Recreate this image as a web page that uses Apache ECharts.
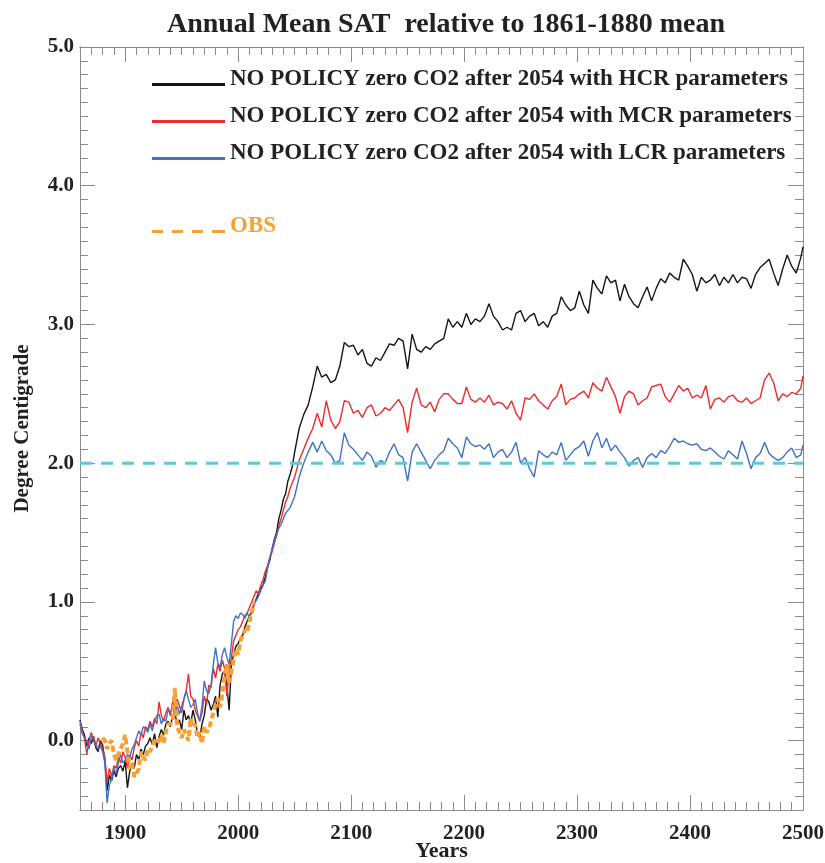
<!DOCTYPE html>
<html>
<head>
<meta charset="utf-8">
<script src="https://cdn.jsdelivr.net/npm/echarts@6/dist/echarts.min.js"></script>
<style>html,body{margin:0;padding:0;background:#fff;overflow:hidden;}#c{width:825px;height:863px;}</style>
</head>
<body>
<div id="c"></div>
<script>
// ---------- DATA ----------
const yearsEarly = [
1860,1862,1864,1866,1868,1870,1872,1874,1876,1878,
1880,1882,1884,1886,1888,1890,1892,1894,1896,1898,
1900,1902,1904,1906,1908,1910,1912,1914,1916,1918,
1920,1922,1924,1926,1928,1930,1932,1934,1936,1938,
1940,1942,1944,1946,1948,1950,1952,1954,1956,1958,
1960,1962,1964,1966,1968,1970,1972,1974,1976,1978,
1980,1982,1984,1986,1988,1990,1992,1994,1996,1998,
2000,2002,2004,2006,2008,2010,2012,2014,2016,2018,
2020,2022,2024,2026,2028,2030,2032,2034,2036,2038,
2040,2042,2044,2046,2048,2050];
const yearsLate = [
2054,2058,2062,2066,2070,2074,2078,2082,2086,2090,
2094,2098,2102,2106,2110,2114,2118,2122,2126,2130,
2134,2138,2142,2146,2150,2154,2158,2162,2166,2170,
2174,2178,2182,2186,2190,2194,2198,2202,2206,2210,
2214,2218,2222,2226,2230,2234,2238,2242,2246,2250,
2254,2258,2262,2266,2270,2274,2278,2282,2286,2290,
2294,2298,2302,2306,2310,2314,2318,2322,2326,2330,
2334,2338,2342,2346,2350,2354,2358,2362,2366,2370,
2374,2378,2382,2386,2390,2394,2398,2402,2406,2410,
2414,2418,2422,2426,2430,2434,2438,2442,2446,2450,
2454,2458,2462,2466,2470,2474,2478,2482,2486,2490,
2494,2498,2500];

const hcrEarly = [
0.15,0.08,0.04,-0.04,0.02,-0.02,0.03,-0.05,-0.08,0.0,
-0.03,-0.14,-0.36,-0.25,-0.29,-0.22,-0.26,-0.2,-0.18,-0.22,
-0.15,-0.34,-0.22,-0.18,-0.2,-0.1,-0.14,-0.06,-0.1,-0.04,
-0.02,0.02,-0.03,0.05,-0.05,0.03,0.08,0.04,0.12,0.14,
0.1,0.18,0.2,0.12,0.15,0.08,0.22,0.15,0.18,0.12,
0.22,0.15,0.05,0.02,0.12,0.18,0.3,0.28,0.22,0.26,
0.32,0.17,0.4,0.48,0.5,0.4,0.22,0.55,0.62,0.68,
0.7,0.74,0.76,0.82,0.86,0.9,0.92,0.98,1.02,1.06,
1.1,1.12,1.18,1.25,1.3,1.38,1.45,1.5,1.6,1.66,
1.74,1.78,1.87,1.92,1.98,2.08];
const hcrLate = [
2.25,2.35,2.42,2.55,2.7,2.62,2.64,2.58,2.6,2.7,
2.87,2.84,2.85,2.78,2.82,2.72,2.7,2.76,2.74,2.8,
2.86,2.85,2.9,2.88,2.68,2.93,2.82,2.8,2.84,2.82,
2.86,2.88,2.9,3.04,2.98,3.02,2.98,3.08,3.0,3.04,
3.02,3.06,3.15,3.06,3.02,2.96,2.98,2.96,3.08,3.1,
3.02,3.06,3.08,2.99,3.02,2.98,3.06,3.08,3.2,3.14,
3.1,3.12,3.24,3.14,3.08,3.32,3.26,3.22,3.35,3.3,
3.32,3.17,3.29,3.2,3.15,3.12,3.2,3.27,3.17,3.26,
3.33,3.3,3.37,3.34,3.32,3.47,3.42,3.36,3.24,3.34,
3.3,3.32,3.36,3.28,3.34,3.3,3.36,3.3,3.34,3.33,
3.26,3.36,3.41,3.44,3.47,3.37,3.28,3.4,3.5,3.42,
3.37,3.48,3.56];

const mcrEarly = [
0.12,0.05,0.02,-0.1,0.0,0.06,0.0,-0.04,0.02,-0.02,
-0.06,-0.12,-0.3,-0.2,-0.26,-0.18,-0.2,-0.12,-0.16,-0.08,
-0.12,-0.2,-0.1,-0.14,-0.05,0.0,-0.04,0.06,0.02,0.1,
0.08,0.14,0.1,0.16,0.12,0.28,0.18,0.14,0.2,0.24,
0.18,0.28,0.22,0.3,0.25,0.2,0.3,0.36,0.48,0.32,
0.3,0.22,0.18,0.14,0.2,0.32,0.26,0.4,0.38,0.52,
0.45,0.55,0.5,0.58,0.52,0.32,0.5,0.6,0.72,0.76,
0.8,0.82,0.86,0.9,0.92,0.96,1.0,1.04,1.08,1.06,
1.12,1.16,1.22,1.26,1.32,1.36,1.42,1.48,1.55,1.6,
1.66,1.72,1.76,1.82,1.86,1.9];
const mcrLate = [
2.02,2.1,2.18,2.25,2.36,2.26,2.45,2.31,2.25,2.3,
2.45,2.44,2.36,2.38,2.33,2.4,2.42,2.34,2.36,2.4,
2.38,2.42,2.46,2.4,2.22,2.44,2.54,2.42,2.4,2.44,
2.37,2.46,2.5,2.5,2.46,2.43,2.43,2.55,2.46,2.44,
2.47,2.44,2.49,2.42,2.44,2.43,2.39,2.45,2.36,2.31,
2.47,2.46,2.5,2.45,2.42,2.39,2.45,2.48,2.57,2.42,
2.46,2.47,2.5,2.52,2.47,2.58,2.54,2.52,2.62,2.55,
2.48,2.36,2.48,2.52,2.5,2.42,2.45,2.47,2.55,2.56,
2.57,2.48,2.44,2.5,2.56,2.52,2.54,2.47,2.49,2.47,
2.56,2.39,2.46,2.47,2.44,2.48,2.49,2.45,2.44,2.47,
2.43,2.45,2.47,2.6,2.65,2.58,2.45,2.5,2.48,2.51,
2.5,2.54,2.63];

const lcrEarly = [
0.14,0.06,0.02,0.0,-0.06,0.03,0.02,-0.02,-0.06,-0.04,
-0.08,-0.16,-0.45,-0.32,-0.28,-0.2,-0.24,-0.16,-0.1,-0.16,
-0.14,-0.1,-0.12,-0.06,-0.03,0.02,0.07,0.04,0.1,0.09,
0.06,0.12,0.07,0.14,0.18,0.19,0.12,0.16,0.14,0.22,
0.2,0.24,0.18,0.26,0.19,0.25,0.3,0.36,0.3,0.24,
0.26,0.3,0.2,0.14,0.25,0.43,0.36,0.34,0.4,0.55,
0.67,0.56,0.53,0.62,0.67,0.6,0.55,0.7,0.86,0.9,
0.88,0.92,0.91,0.88,0.92,0.89,0.95,0.98,1.01,1.04,
1.08,1.12,1.15,1.24,1.32,1.38,1.44,1.48,1.53,1.56,
1.6,1.64,1.66,1.68,1.72,1.76];
const lcrLate = [
1.9,2.0,2.08,2.15,2.08,2.16,2.09,2.06,2.0,2.02,
2.22,2.13,2.1,2.06,2.02,2.08,2.05,1.97,2.02,2.0,
2.08,2.14,2.06,2.04,1.87,2.08,2.14,2.08,2.02,1.96,
2.02,2.06,2.09,2.18,2.14,2.11,2.04,2.19,2.14,2.12,
2.13,2.1,2.14,2.04,2.08,2.1,2.04,2.08,2.15,2.0,
2.04,1.96,1.9,2.09,2.06,2.04,2.08,2.06,2.15,2.02,
2.06,2.1,2.12,2.16,2.05,2.16,2.22,2.11,2.18,2.09,
2.13,2.08,2.04,1.98,2.02,2.04,1.97,2.04,2.07,2.04,
2.09,2.07,2.12,2.18,2.15,2.16,2.14,2.13,2.14,2.1,
2.09,2.11,2.08,2.05,2.03,2.09,2.06,2.03,2.16,2.07,
1.96,2.04,2.07,2.15,2.07,2.04,2.02,2.04,2.08,2.11,
2.04,2.06,2.13];

const obsYears = [
1880,1882,1884,1886,1888,1890,1892,1894,1896,1898,
1900,1902,1904,1906,1908,1910,1912,1914,1916,1918,
1920,1922,1924,1926,1928,1930,1932,1934,1936,1938,
1940,1942,1944,1946,1948,1950,1952,1954,1956,1958,
1960,1962,1964,1966,1968,1970,1972,1974,1976,1978,
1980,1982,1984,1986,1988,1990,1992,1994,1996,1998,
2000,2002,2004,2006,2008,2010,2012,2014];
const obsValues = [
0.02,0.0,-0.06,-0.02,0.0,-0.1,-0.14,-0.1,-0.06,-0.02,
0.04,-0.08,-0.2,-0.16,-0.26,-0.24,-0.2,-0.08,-0.12,-0.14,
-0.06,-0.08,-0.04,0.0,-0.02,0.0,0.04,-0.02,0.06,0.12,
0.12,0.14,0.38,0.1,0.06,0.02,0.08,0.04,0.0,0.16,
0.1,0.12,0.02,0.06,-0.02,0.1,0.06,0.08,0.14,0.2,
0.26,0.3,0.24,0.34,0.46,0.55,0.42,0.5,0.58,0.66,
0.62,0.72,0.76,0.8,0.78,0.86,0.92,1.0];

const thresholdYears = [1860, 2500];
const thresholdValues = [2.0, 2.0];

const xTickLabels = [1900, 2000, 2100, 2200, 2300, 2400, 2500];
const yTickLabels = [0, 1, 2, 3, 4, 5];

const names = [
  'NO POLICY zero CO2 after 2054 with HCR parameters',
  'NO POLICY zero CO2 after 2054 with MCR parameters',
  'NO POLICY zero CO2 after 2054 with LCR parameters',
  'OBS'
];

// ---------- BUILD ----------
function pairs(ys, vs) { return ys.map((y, i) => [y, vs[i]]); }
const allYears = yearsEarly.concat(yearsLate);
const hcr = pairs(allYears, hcrEarly.concat(hcrLate));
const mcr = pairs(allYears, mcrEarly.concat(mcrLate));
const lcr = pairs(allYears, lcrEarly.concat(lcrLate));
const obs = pairs(obsYears, obsValues);
const thr = pairs(thresholdYears, thresholdValues);

const FONT = "'Liberation Serif', 'Times New Roman', serif";
const AX = '#8a8a8a';
const C_HCR = '#151515', C_MCR = '#ec2b2b', C_LCR = '#3f72c6', C_OBS = '#f7a033', C_THR = '#5ec8d8';
const xMinor = []; for (let y = 1860; y <= 2500; y += 10) xMinor.push(y);
const yMinor = []; for (let i = -5; i <= 50; i++) yMinor.push(i / 10);

function xAx(pos, vals, len, labels) {
  return {
    type: 'value', min: 1860, max: 2500, position: pos,
    axisLine: { show: true, onZero: false, lineStyle: { color: AX, width: 1 } },
    axisTick: { show: true, inside: true, length: len, customValues: vals, lineStyle: { color: AX, width: 1 } },
    axisLabel: labels ? { show: true, customValues: xTickLabels, margin: 13,
      formatter: v => String(v),
      fontFamily: FONT, fontWeight: 'bold', fontSize: 21, color: '#222' } : { show: false },
    splitLine: { show: false },
    name: labels ? 'Years' : '', nameLocation: 'middle', nameGap: 30, nameMoveOverlap: false,
    nameTextStyle: { fontFamily: FONT, fontWeight: 'bold', fontSize: 22, color: '#222' }
  };
}
function yAx(pos, vals, len, labels) {
  return {
    type: 'value', min: -0.5, max: 5.0, position: pos,
    axisLine: { show: true, onZero: false, lineStyle: { color: AX, width: 1 } },
    axisTick: { show: true, inside: true, length: len, customValues: vals, lineStyle: { color: AX, width: 1 } },
    axisLabel: labels ? { show: true, customValues: yTickLabels, margin: 6,
      formatter: v => v.toFixed(1),
      fontFamily: FONT, fontWeight: 'bold', fontSize: 21, color: '#222' } : { show: false },
    splitLine: { show: false },
    name: labels ? 'Degree Centigrade' : '', nameLocation: 'middle', nameGap: 47, nameMoveOverlap: false,
    nameTextStyle: { fontFamily: FONT, fontWeight: 'bold', fontSize: 21, color: '#222' }
  };
}

const legendText = { fontFamily: FONT, fontWeight: 'bold', fontSize: 23, color: '#222' };
const lineIcon = 'path://M0,0h0.01v0.01h-0.01z M0,10h73v2.8h-73z';
const dashIcon = 'path://M0,0h0.01v0.01h-0.01z M0,10h11v2.8h-11z M20,10h11v2.8h-11z M40,10h11v2.8h-11z M60,10h13v2.8h-13z';

const chart = echarts.init(document.getElementById('c'), null, { renderer: 'canvas', width: 825, height: 863 });
chart.setOption({
  animation: false,
  backgroundColor: '#fff',
  title: {
    text: 'Annual Mean SAT  relative to 1861-1880 mean',
    left: 441, top: 6, textAlign: 'center',
    textStyle: { fontFamily: FONT, fontWeight: 'bold', fontSize: 28, color: '#222' }
  },
  grid: { left: 80, right: 22, top: 47, bottom: 53, containLabel: false, outerBoundsMode: 'none' },
  xAxis: [
    xAx('bottom', xTickLabels, 15, true),
    xAx('bottom', xMinor, 8, false),
    xAx('top', xTickLabels, 15, false),
    xAx('top', xMinor, 8, false)
  ],
  yAxis: [
    yAx('left', yTickLabels, 15, true),
    yAx('left', yMinor, 8, false),
    yAx('right', yTickLabels, 15, false),
    yAx('right', yMinor, 8, false)
  ],
  legend: [{
    orient: 'vertical', left: 147, top: 63, itemWidth: 73, itemHeight: 12.8, itemGap: 14,
    icon: lineIcon,
    data: names.slice(0, 3),
    textStyle: legendText
  }, {
    orient: 'vertical', left: 147, top: 210, itemWidth: 73, itemHeight: 12.8,
    data: [{ name: names[3], icon: dashIcon, textStyle: { color: C_OBS } }],
    textStyle: Object.assign({}, legendText, { color: C_OBS })
  }],
  series: [
    { name: names[0], type: 'line', data: hcr, symbol: 'none', lineStyle: { color: C_HCR, width: 1.4 }, itemStyle: { color: C_HCR } },
    { name: names[1], type: 'line', data: mcr, symbol: 'none', lineStyle: { color: C_MCR, width: 1.4 }, itemStyle: { color: C_MCR } },
    { name: names[2], type: 'line', data: lcr, symbol: 'none', lineStyle: { color: C_LCR, width: 1.4 }, itemStyle: { color: C_LCR } },
    { name: names[3], type: 'line', data: obs, symbol: 'none', lineStyle: { color: C_OBS, width: 4, type: [6, 3] }, itemStyle: { color: C_OBS } },
    { name: 'threshold', type: 'line', data: thr, symbol: 'none', silent: true, z: 5,
      lineStyle: { color: C_THR, width: 3, type: [12, 9] } }
  ]
});
</script>
</body>
</html>
